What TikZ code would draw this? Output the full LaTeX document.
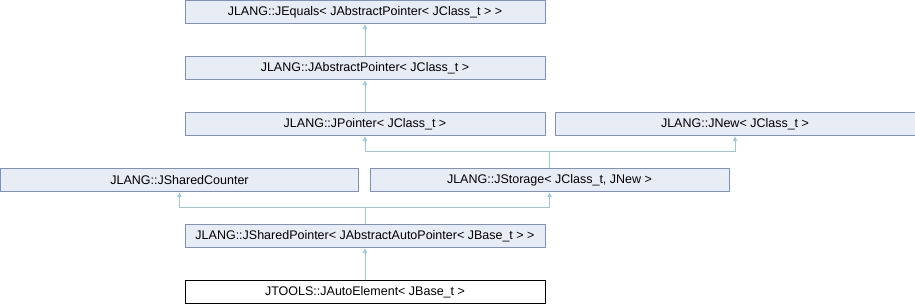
\documentclass[tikz,border=0pt]{standalone}
\usepackage{fontspec}
\setmainfont{Liberation Sans}
\usetikzlibrary{arrows.meta,positioning,calc}
\definecolor{bordeclase}{RGB}{122,146,200}
\definecolor{rellenoclase}{RGB}{232,236,245}
\definecolor{herencia}{RGB}{150,200,226}
\tikzset{
    clase/.style={
        rectangle,                % caja de clase de doxygen
        draw=bordeclase,          % borde azul apagado
        fill=rellenoclase,        % relleno gris azulado muy claro
        line width=1pt,
        minimum width=#1,         % ancho fijo de la caja
        minimum height=23pt,
        inner sep=0pt,
        font=\fontsize{12.5}{14}\selectfont
    },
    clase/.default=360pt,
    actual/.style={
        clase,                    % misma caja, pero es la clase documentada
        draw=black,
        fill=white
    },
    hereda/.style={
        draw=herencia,            % linea celeste
        line width=1pt,
        -{Latex[length=5pt,width=5pt]}
    }
}
\begin{document}
\begin{tikzpicture}[x=1pt,y=-1pt]
    \useasboundingbox (0,0) rectangle (915,304);
    \node[clase] (equals) at (365,12) {JLANG::JEquals<\ JAbstractPointer<\ JClass\_t > >};
    \node[clase] (abspointer) at (365,68) {JLANG::JAbstractPointer<\ JClass\_t >};
    \node[clase] (pointer) at (365,124) {JLANG::JPointer<\ JClass\_t >};
    \node[clase] (new) at (735,124) {JLANG::JNew<\ JClass\_t >};
    \node[clase=358pt] (counter) at (179.5,180) {JLANG::JSharedCounter};
    \node[clase=359pt] (storage) at (549.5,180) {JLANG::JStorage<\ JClass\_t,\ JNew >};
    \node[clase] (sharedpointer) at (365,236) {JLANG::JSharedPointer<\ JAbstractAutoPointer<\ JBase\_t > >};
    \node[actual] (autoelement) at (365,292) {JTOOLS::JAutoElement<\ JBase\_t >};
    \coordinate (ramastorage) at (549.5,152);
    \coordinate (ramashared) at (365,208);
    \draw[hereda] (abspointer) -- (equals);
    \draw[hereda] (pointer) -- (abspointer);
    \draw[hereda] (storage.north) -- (ramastorage) -| (pointer.south);
    \draw[hereda] (ramastorage) -| (new.south);
    \draw[hereda] (sharedpointer.north) -- (ramashared) -| (counter.south);
    \draw[hereda] (ramashared) -| (storage.south);
    \draw[hereda] (autoelement) -- (sharedpointer);
\end{tikzpicture}
\end{document}
